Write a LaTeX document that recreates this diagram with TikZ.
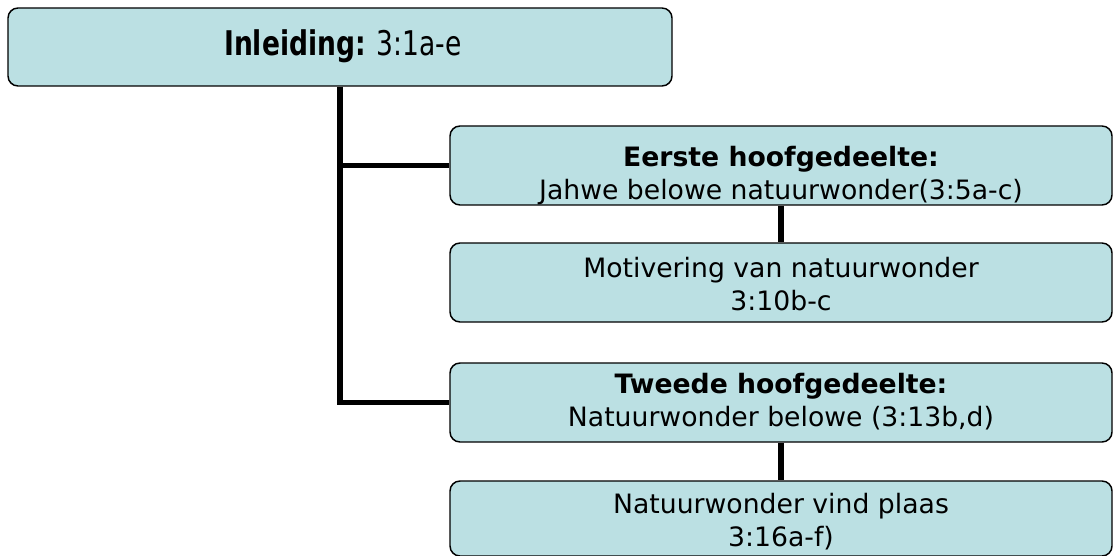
\documentclass[tikz,border=0pt]{standalone}
\usepackage{fontspec}
\setmainfont{DejaVu Sans}
\begin{document}
\begin{tikzpicture}[x=0.75pt,y=-0.75pt,
  box/.style={draw=black, line width=1.1pt, rounded corners=7.5pt,
    fill={rgb,255:red,187;green,224;blue,227}, inner sep=0pt},
  txt/.style={inner sep=0pt, align=center,
    font=\fontsize{20pt}{24.5pt}\selectfont},
  link/.style={line width=3.8pt, line join=miter}]
\useasboundingbox (0,0) rectangle (1114,556);

% boxes
\node[box, minimum width=664*0.75pt, minimum height=78*0.75pt] (intro) at (340,47) {};
\node[box, minimum width=662*0.75pt, minimum height=79*0.75pt] (first) at (781,165.5) {};
\node[box, minimum width=662*0.75pt, minimum height=79*0.75pt] (motiv) at (781,282.5) {};
\node[box, minimum width=662*0.75pt, minimum height=79*0.75pt] (second) at (781,402.5) {};
\node[box, minimum width=662*0.75pt, minimum height=75*0.75pt] (event) at (781,518.5) {};

% texts
\node[txt, anchor=base] (introtxt) at (343,56)
  {\scalebox{0.78}[1]{\fontsize{25.5pt}{30pt}\selectfont\textbf{Inleiding:} 3:1a-e}};
\node[txt, anchor=north] (firsttxt) at (781,146)
  {\textbf{Eerste hoofgedeelte:}\\Jahwe belowe natuurwonder(3:5a-c)};
\node[txt, anchor=north] (motivtxt) at (781,257)
  {Motivering van natuurwonder\\3:10b-c};
\node[txt, anchor=north] (secondtxt) at (781,373)
  {\textbf{Tweede hoofgedeelte:}\\Natuurwonder belowe (3:13b,d)};
\node[txt, anchor=north] (eventtxt) at (781,493)
  {Natuurwonder vind plaas\\3:16a-f)};

% connectors
\draw[link] (intro.south) |- (first.west);
\draw[link] (intro.south) |- (second.west);
\draw[link] (first.south) -- (motiv.north);
\draw[link] (second.south) -- (event.north);
\end{tikzpicture}
\end{document}
